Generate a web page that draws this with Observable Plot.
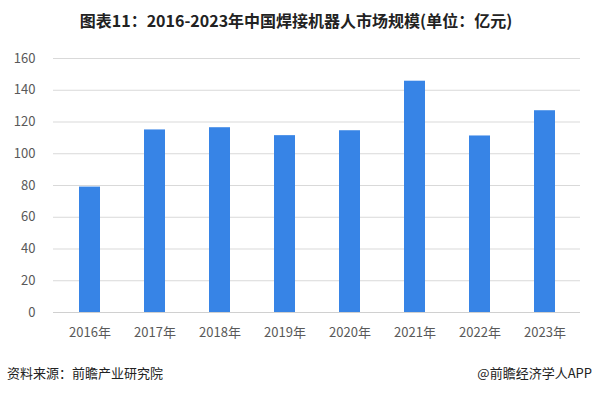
<!DOCTYPE html>
<html>
<head>
<meta charset="utf-8">
<script src="https://cdn.jsdelivr.net/npm/d3@7"></script>
<script src="https://cdn.jsdelivr.net/npm/@observablehq/plot@0.6"></script>
<style>
  html, body { margin: 0; padding: 0; background: #fff; }
  #wrap { position: relative; width: 592px; height: 394px; overflow: hidden; font-family: "Noto Sans CJK SC", "Noto Sans", sans-serif; }
  #title { height: 40px; line-height: 40px; text-align: center; font-size: 16px; font-weight: bold; color: #222; }
  #chart svg { display: block; }
  #src { position: absolute; left: 7px; top: 364px; font-size: 13px; color: #222; line-height: 18px; }
  #brand { position: absolute; right: 0px; top: 364px; font-size: 13px; color: #222; line-height: 18px; }
</style>
</head>
<body>
<div id="wrap">
  <div id="title">图表11：2016-2023年中国焊接机器人市场规模(单位：亿元)</div>
  <div id="chart"></div>
  <div id="src">资料来源：前瞻产业研究院</div>
  <div id="brand">@前瞻经济学人APP</div>
</div>
<script>
const years = ["2016年", "2017年", "2018年", "2019年", "2020年", "2021年", "2022年", "2023年"];
const values = [79, 115, 116.4, 111.4, 114.5, 145.7, 111.2, 127.1];
const yTicks = [0, 20, 40, 60, 80, 100, 120, 140, 160];

const data = years.map((y, i) => ({year: y, value: values[i]}));

const chart = Plot.plot({
  width: 592,
  height: 310,
  marginTop: 18,
  marginBottom: 38,
  marginLeft: 53,
  marginRight: 12,
  style: {fontFamily: "'Noto Sans CJK SC', 'Noto Sans', sans-serif", fontSize: "13px", color: "#595959", background: "#fff"},
  x: {domain: years, paddingInner: 0.68, paddingOuter: 0.34, label: null},
  y: {domain: [0, 160], ticks: yTicks, label: null},
  marks: [
    Plot.gridY(yTicks, {stroke: "#d9d9d9", strokeOpacity: 1}),
    Plot.axisY(yTicks, {tickSize: 0, tickPadding: 18, label: null, fontSize: 13, fill: "#595959"}),
    Plot.axisX({tickSize: 0, tickPadding: 15, label: null, fontSize: 13, fill: "#595959"}),
    Plot.barY(data, {x: "year", y: "value", fill: "#3784e6"}),
    Plot.ruleY([0], {stroke: "#d0d0d0"})
  ]
});
document.getElementById("chart").appendChild(chart);
</script>
</body>
</html>
